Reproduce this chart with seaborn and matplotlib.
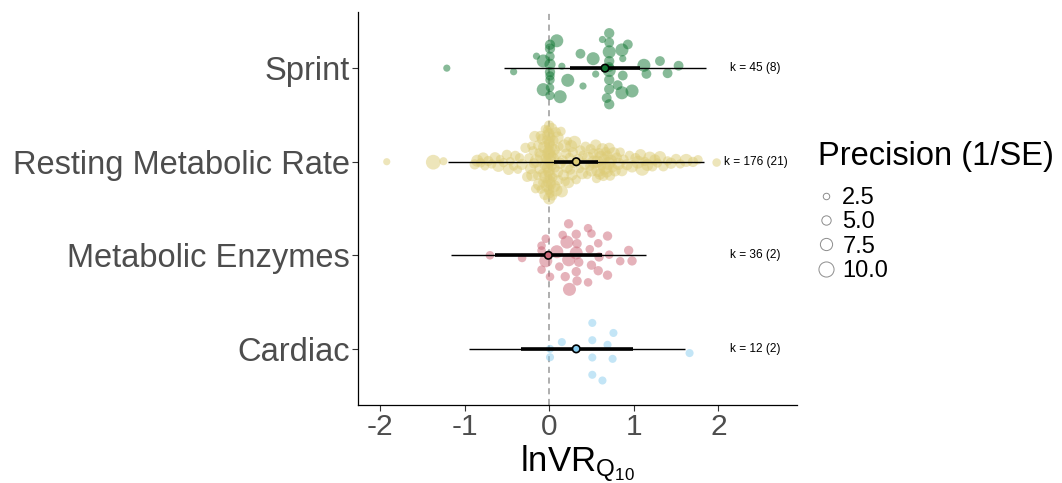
import numpy as np
import pandas as pd
import matplotlib
matplotlib.use("Agg")
import matplotlib.pyplot as plt
import seaborn as sns
from matplotlib.lines import Line2D

# ---------------- data ----------------
groups = ["Cardiac", "Metabolic Enzymes", "Resting Metabolic Rate", "Sprint"]
colors = ["#88CCEE", "#CC6677", "#DDCC77", "#117733"]

cardiac_yi = [0.01, 0.01, 0.15, 0.51, 0.51, 0.51, 0.51, 0.69, 0.76, 0.75, 0.63, 1.66]
cardiac_prec = [3.9] * 12

enzymes_yi = [-0.70, -0.32, -0.09, -0.09, -0.04, -0.04, -0.09, 0.01, 0.09, 0.12,
              0.16, 0.21, 0.23, 0.23, 0.19, 0.24, 0.32, 0.33, 0.32, 0.35,
              0.32, 0.33, 0.46, 0.50, 0.48, 0.50, 0.46, 0.58, 0.59, 0.58,
              0.69, 0.71, 0.69, 0.84, 0.94, 0.98]
enzymes_prec = [4.3, 4.3, 4.3, 4.3, 8.2, 4.3, 4.3, 4.3, 8.2, 4.3,
                4.3, 8.2, 8.2, 5.0, 5.0, 8.2, 8.2, 5.0, 5.0, 5.0,
                5.0, 5.0, 4.3, 5.0, 4.3, 4.3, 4.3, 5.0, 5.0, 4.3,
                5.0, 4.3, 5.0, 4.3, 5.0, 5.0]

rmr_yi = [-1.92, -1.37, -1.25,
          -0.88, -0.85, -0.81, -0.78, -0.76, -0.72, -0.68, -0.64, -0.60, -0.58,
          -0.54, -0.50, -0.48, -0.46, -0.42, -0.40, -0.37, -0.35, -0.32, -0.28,
          -0.26, -0.24, -0.22, -0.21, -0.20, -0.19, -0.18, -0.17, -0.16, -0.15,
          -0.14, -0.13, -0.12, -0.12, -0.11, -0.10, -0.10, -0.09, -0.08, -0.08,
          -0.07, -0.06, -0.06, -0.05, -0.05, -0.04, -0.04, -0.03, -0.03, -0.02,
          -0.02, -0.02, -0.01, -0.01, -0.01, 0.00, 0.00, 0.00, 0.00, 0.00,
          0.00, 0.00, 0.00, 0.00, 0.00, 0.01, 0.01, 0.01, 0.02, 0.02,
          0.02, 0.03, 0.03, 0.04, 0.04, 0.05, 0.05, 0.06, 0.06, 0.07,
          0.08, 0.08, 0.09, 0.10, 0.10, 0.11, 0.12, 0.13, 0.14, 0.15,
          0.16, 0.17, 0.18, 0.19, 0.20, 0.21, 0.22, 0.23, 0.24, 0.25,
          0.26, 0.27, 0.28, 0.29, 0.30, 0.00, 0.00, -0.01,
          0.32, 0.34, 0.36, 0.37, 0.39, 0.40, 0.42, 0.43, 0.45, 0.46, 0.48, 0.49,
          0.50, 0.52, 0.53, 0.55, 0.56, 0.57, 0.58, 0.59, 0.60, 0.61,
          0.62, 0.63, 0.64, 0.65, 0.66, 0.67, 0.68, 0.69, 0.70, 0.71,
          0.72, 0.73, 0.75, 0.76, 0.78, 0.80, 0.82, 0.84, 0.86, 0.88,
          0.92, 0.95, 0.98, 1.02, 1.05, 1.08, 1.10, 1.13, 1.16, 1.19,
          1.22, 1.25, 1.28, 1.31, 1.35, 1.40, 1.44, 1.50, 1.55, 1.62, 1.70, 1.76,
          1.98]
rmr_prec = [3.1, 9.7, 3.9,
            5.8, 7.4, 5.0, 6.6, 4.3, 5.8, 5.0, 6.6, 7.4, 4.3, 5.0, 5.8, 6.6, 4.3, 5.0, 5.8, 4.3, 5.0, 6.6, 5.8,
            5.8, 5.0, 6.6, 4.3, 7.4, 5.0, 5.8, 6.6, 5.0, 8.2, 4.3, 5.8, 7.4, 5.0, 6.6, 5.8, 4.3, 8.2, 5.0, 6.6,
            5.8, 7.4, 5.0, 4.3, 6.6, 5.8, 8.2, 5.0, 7.4, 5.8, 6.6, 5.0, 4.3, 7.4, 5.8, 8.2, 6.6, 5.0, 5.8, 7.4,
            9.0, 5.0, 6.6, 5.8, 7.4, 4.3, 8.2, 6.6, 5.0, 5.8, 7.4, 5.8, 6.6, 5.0, 8.2, 4.3, 5.8, 7.4, 6.6, 5.0,
            5.8, 8.2, 5.0, 6.6, 7.4, 5.8, 4.3, 6.6, 5.0, 7.4, 5.8, 6.6, 8.2, 5.0, 5.8, 7.4, 4.3, 6.6, 5.0, 5.8,
            7.4, 6.6, 5.8, 5.0, 8.2, 6.6, 5.8, 7.4,
            5.0, 6.6, 4.3, 5.8, 7.4, 5.0, 6.6, 5.8, 4.3, 7.4, 5.0, 5.8,
            7.4, 5.8, 8.2, 6.6, 5.0, 7.4, 9.0, 5.8, 6.6, 8.2, 5.0, 7.4, 5.8, 6.6, 9.0, 5.0, 7.4, 5.8, 8.2, 6.6,
            5.8, 7.4, 5.0, 8.2, 6.6, 5.8, 7.4, 5.0, 6.6, 5.8,
            6.6, 5.0, 7.4, 5.8, 8.2, 6.6, 9.0, 5.0, 7.4, 8.2, 5.8, 6.6, 5.0, 7.4, 5.8, 5.0, 6.6, 5.8, 5.0, 8.2,
            5.8, 5.0,
            4.3]

sprint_yi = [-1.21, -0.42,
             0.01, 0.01, 0.01, 0.01, 0.01, 0.01, 0.01, 0.01, 0.01,
             -0.07, -0.15, 0.13, 0.09, -0.07, 0.15, 0.22, 0.37, 0.40, 0.55, 0.52,
             0.71, 0.71, 0.71, 0.71, 0.71, 0.71, 0.71, 0.71, 0.71,
             0.63, 0.68,
             0.86, 0.93, 0.87, 0.87, 0.81, 0.86, 0.98, 1.12, 1.15, 1.31, 1.40, 1.53]
sprint_prec = [3.1, 3.1,
               5.0, 5.8, 5.0, 6.6, 5.0, 5.8, 4.3, 5.0, 5.8,
               8.2, 3.1, 8.2, 8.2, 8.2, 3.1, 8.2, 5.4, 3.1, 3.1, 8.2,
               5.8, 5.8, 5.4, 5.8, 8.2, 8.2, 5.8, 5.8, 5.4,
               3.1, 5.4,
               8.2, 5.4, 3.1, 5.4, 5.4, 8.2, 8.2, 8.2, 5.4, 5.4, 5.4, 5.4]

est_mean = [0.32, -0.01, 0.32, 0.66]
ci_low = [-0.33, -0.64, 0.06, 0.25]
ci_high = [0.99, 0.62, 0.58, 1.07]
pi_low = [-0.95, -1.16, -1.20, -0.53]
pi_high = [1.60, 1.15, 1.83, 1.86]
k_labels = ["k = 12 (2)", "k = 36 (2)", "k = 176 (21)", "k = 45 (8)"]
legend_breaks = [2.5, 5.0, 7.5, 10.0]
legend_title = "Precision (1/SE)"
x_ticks = [-2, -1, 0, 1, 2]

# ---------------- quasirandom layout (ggbeeswarm style) ----------------
def van_der_corput(n, base=2):
    out = []
    for i in range(1, n + 1):
        q, denom, v = i, 1, 0.0
        while q:
            denom *= base
            q, r = divmod(q, base)
            v += r / denom
        out.append(v)
    return np.array(out)


def nrd0(x):
    x = np.asarray(x, float)
    hi = np.std(x, ddof=1)
    iqr = np.subtract(*np.percentile(x, [75, 25]))
    lo = min(hi, iqr / 1.34)
    if lo <= 0:
        lo = hi if hi > 0 else 1.0
    return 0.9 * lo * len(x) ** -0.2


def quasirandom(x, width=0.4):
    x = np.asarray(x, float)
    bw = nrd0(x)
    grid = np.linspace(x.min() - 3 * bw, x.max() + 3 * bw, 512)
    dens = np.exp(-0.5 * ((grid[:, None] - x[None, :]) / bw) ** 2).sum(1)
    dens /= dens.max()
    off = np.interp(x, grid, dens)
    ranks = np.argsort(np.argsort(x, kind="stable"), kind="stable")
    seq = van_der_corput(len(x))
    return (seq[ranks] - 0.5) * 2 * off * width


series = [(cardiac_yi, cardiac_prec), (enzymes_yi, enzymes_prec),
          (rmr_yi, rmr_prec), (sprint_yi, sprint_prec)]
frames = []
for i, (g, (yi, pr)) in enumerate(zip(groups, series)):
    n = min(len(yi), len(pr))
    yi = np.asarray(yi[:n], float)
    frames.append(pd.DataFrame({"group": g, "yi": yi, "prec": pr[:n],
                                "ypos": i + 1 + quasirandom(yi)}))
df = pd.concat(frames, ignore_index=True)


def diam_pt(p):
    # diameter in points for a precision value
    return (3.6 + 1.15 * p) * 0.72


size_map = {p: diam_pt(p) ** 2 for p in sorted(df["prec"].unique())}
palette = dict(zip(groups, colors))

# ---------------- figure ----------------
sns.set_theme(style="white")
plt.rcParams["font.family"] = ["Liberation Sans", "DejaVu Sans"]
plt.rcParams["mathtext.fontset"] = "custom"
plt.rcParams["mathtext.rm"] = "Liberation Sans"
plt.rcParams["mathtext.it"] = "Liberation Sans:italic"
plt.rcParams["axes.unicode_minus"] = False

W, H = 1062, 483
fig = plt.figure(figsize=(W / 100, H / 100), dpi=100)
ax = fig.add_axes([358 / W, 1 - 405 / H, (797 - 358) / W, (405 - 12) / H])

ax.axvline(0, color="#999999", lw=1.1, ls=(0, (4, 3)), zorder=1)

sns.scatterplot(data=df, x="yi", y="ypos", hue="group", palette=palette,
                size="prec", sizes=size_map, alpha=0.5, linewidth=0,
                legend=False, ax=ax, zorder=2)

ypos = np.arange(1, len(groups) + 1)
ax.hlines(ypos, pi_low, pi_high, color="black", lw=1.0, zorder=3)
ax.hlines(ypos, ci_low, ci_high, color="black", lw=2.6, zorder=4)
sns.scatterplot(x=est_mean, y=ypos, hue=groups, palette=palette, s=(7.5 * 0.72) ** 2,
                edgecolor="black", linewidth=1.2, legend=False, ax=ax, zorder=5)

for y, lab in zip(ypos, k_labels):
    ax.text(2.44, y, lab, ha="center", va="center", fontsize=8.6, color="black", zorder=6)

ax.set_xlim(-2.26, 2.93)
ax.set_ylim(0.4, 4.6)
ax.set_xticks(x_ticks)
ax.set_xticklabels([str(t) for t in x_ticks])
ax.set_yticks(ypos)
ax.set_yticklabels(groups)
ax.tick_params(axis="y", labelsize=23.5, labelcolor="#4d4d4d", length=4, width=0.8,
               color="#333333", pad=2, left=True)
ax.tick_params(axis="x", labelsize=21.5, labelcolor="#4d4d4d", length=4, width=0.8,
               color="#333333", pad=2, bottom=True)
ax.set_xlabel(r"lnVR$_{\mathrm{Q}_{\mathrm{10}}}$", fontsize=25, color="black", labelpad=1)
ax.set_ylabel("")
for s in ["top", "right"]:
    ax.spines[s].set_visible(False)
for s in ["left", "bottom"]:
    ax.spines[s].set_color("black")
    ax.spines[s].set_linewidth(0.9)
ax.grid(False)

# legend: title as its own text, entries as a figure legend
fig.text(818 / W, 1 - 165 / H, legend_title, fontsize=23.5, color="black",
         ha="left", va="baseline")
handles = [Line2D([], [], marker="o", linestyle="", markerfacecolor="none",
                  markeredgecolor="#8c8c8c", markeredgewidth=0.7,
                  markersize=diam_pt(b)) for b in legend_breaks]
fig.legend(handles, [f"{b:.1f}" for b in legend_breaks],
           loc="upper left", bbox_to_anchor=(817.7 / W, 1 - 187 / H),
           frameon=False, fontsize=17, handletextpad=0.36,
           labelspacing=0.1, borderaxespad=0, borderpad=0, handlelength=0.68,
           labelcolor="black")

fig.savefig("out.png", dpi=100)
